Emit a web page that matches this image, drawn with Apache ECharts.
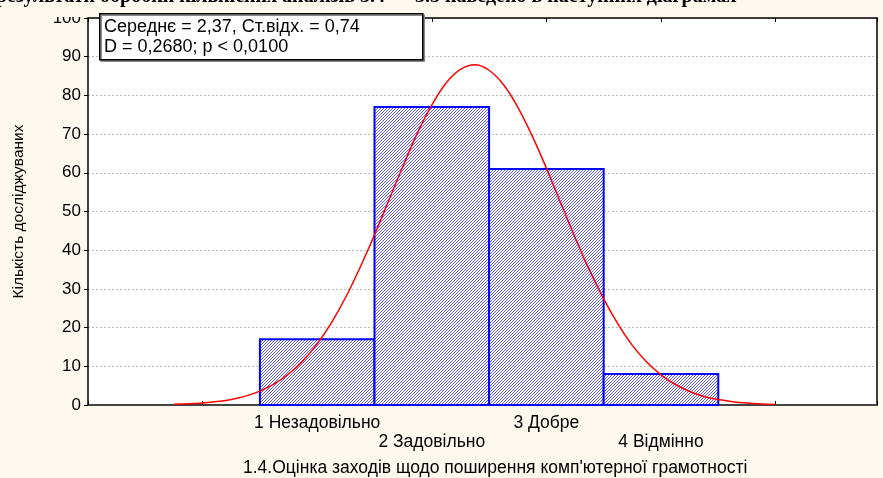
<!DOCTYPE html>
<html>
<head>
<meta charset="utf-8">
<script src="https://cdn.jsdelivr.net/npm/echarts@6/dist/echarts.min.js"></script>
<style>
html,body{margin:0;padding:0;background:#fdf9ee;}
#chart{width:883px;height:478px;}
</style>
</head>
<body>
<div id="chart"></div>
<script>
// ---- data ----
const categories = ['1 Незадовільно', '2 Задовільно', '3 Добре', '4 Відмінно'];
const categoryPos = [1, 2, 3, 4];
const counts = [17, 77, 61, 8];
const curveX = [-0.25, -0.125, 0, 0.125, 0.25, 0.375, 0.5, 0.625, 0.75, 0.875, 1, 1.125, 1.25, 1.375, 1.5, 1.625, 1.75, 1.875, 2, 2.125, 2.25, 2.375, 2.5, 2.625, 2.75, 2.875, 3, 3.125, 3.25, 3.375, 3.5, 3.625, 3.75, 3.875, 4, 4.125, 4.25, 4.375, 4.5, 4.625, 4.75, 4.875, 5];
const curveY = [0.17, 0.3, 0.52, 0.88, 1.45, 2.3, 3.6, 5.45, 8, 11.4, 15.8, 21.3, 27.9, 35.6, 44, 52.9, 61.8, 70.3, 77.5, 83.2, 86.7, 87.9, 86.5, 82.8, 77, 69.6, 61.2, 52.2, 43.3, 34.9, 27.4, 20.9, 15.4, 11.1, 7.8, 5.3, 3.5, 2.2, 1.4, 0.85, 0.5, 0.29, 0.16];
const yTicks = [0, 10, 20, 30, 40, 50, 60, 70, 80, 90, 100];
const statsLine1 = 'Середнє = 2,37, Ст.відх. = 0,74';
const statsLine2 = 'D = 0,2680; p < 0,0100';
const xTitle = "1.4.Оцінка заходів щодо поширення комп'ютерної грамотності";
const yTitle = 'Кількість досліджуваних';
const docText = 'результати обробки кількісних аналізів 3.4 — 3.5 наведено в наступних діаграмах';

// hatch pattern
const tile = document.createElement('canvas');
tile.width = 3; tile.height = 3;
const tctx = tile.getContext('2d');
tctx.fillStyle = '#ffffff'; tctx.fillRect(0, 0, 3, 3);
tctx.fillStyle = '#5a5aff';
tctx.fillRect(0, 2, 1, 1); tctx.fillRect(1, 1, 1, 1); tctx.fillRect(2, 0, 1, 1);

const FONT = '"Liberation Sans", Arial, sans-serif';
const chart = echarts.init(document.getElementById('chart'), null, {renderer: 'canvas'});

const option = {
  backgroundColor: '#fdf9ee',
  animation: false,
  grid: {left: 88, right: 6, top: 18, bottom: 73, show: true, backgroundColor: '#ffffff', borderWidth: 0},
  xAxis: [{
    type: 'value', min: -1, max: 5.885, interval: 1, position: 'bottom',
    axisLine: {onZero: false, lineStyle: {color: '#444', width: 2}},
    axisTick: {inside: true, length: 4, lineStyle: {color: '#000'}},
    splitLine: {show: false},
    axisLabel: {
      margin: 9, color: '#000', fontSize: 17.5, fontFamily: FONT, lineHeight: 19,
      formatter: function (v) {
        const i = categoryPos.indexOf(Math.round(v * 1000) / 1000);
        if (i < 0) return '';
        return i % 2 ? '\n' + categories[i] : categories[i];
      }
    }
  }, {
    type: 'value', min: -1, max: 5.885, interval: 1, position: 'top',
    axisLine: {onZero: false, lineStyle: {color: '#000', width: 1.5}},
    axisTick: {inside: true, length: 4, lineStyle: {color: '#000'}},
    splitLine: {show: false}, axisLabel: {show: false}
  }],
  yAxis: [{
    type: 'value', min: yTicks[0], max: yTicks[yTicks.length - 1], interval: 10, position: 'left',
    axisLine: {show: true, onZero: false, lineStyle: {color: '#000', width: 1.5}},
    axisTick: {show: true, length: 4, lineStyle: {color: '#000'}},
    splitLine: {show: true, lineStyle: {color: '#bdbdbd', type: [2, 2], width: 1}},
    axisLabel: {color: '#000', fontSize: 17, fontFamily: FONT, margin: 7},
    name: yTitle, nameLocation: 'middle', nameGap: 61, nameRotate: 90,
    nameTextStyle: {color: '#000', fontSize: 15.5, fontFamily: FONT}
  }, {
    type: 'value', min: 0, max: 100, interval: 10, position: 'right',
    axisLine: {show: true, onZero: false, lineStyle: {color: '#000', width: 1.5}},
    axisTick: {show: false}, splitLine: {show: false}, axisLabel: {show: false}
  }],
  series: [{
    type: 'custom',
    xAxisIndex: 0, yAxisIndex: 0,
    encode: {x: 0, y: 1},
    data: categoryPos.map((x, i) => [x, counts[i]]),
    z: 3,
    renderItem: function (params, api) {
      const x = api.value(0), y = api.value(1);
      const p0 = api.coord([x - 0.5, y]);
      const p1 = api.coord([x + 0.5, 0]);
      return {
        type: 'rect',
        shape: {x: p0[0], y: p0[1], width: p1[0] - p0[0], height: p1[1] - p0[1]},
        style: {fill: {image: tile, repeat: 'repeat'}, stroke: '#0000ff', lineWidth: 2}
      };
    }
  }, {
    type: 'line',
    xAxisIndex: 0, yAxisIndex: 0,
    data: curveX.map((x, i) => [x, curveY[i]]),
    smooth: 0.3, showSymbol: false, symbol: 'none', z: 5,
    lineStyle: {color: '#ff0000', width: 1.5}
  }],
  graphic: [
    {type: 'text', left: -4, top: -13, z: 1, style: {text: docText, font: 'bold 20px "Liberation Serif", "Times New Roman", serif', fill: '#000'}},
    {type: 'rect', left: 0, top: 9, z: 2, shape: {width: 883, height: 8}, style: {fill: '#fdf9ee'}},
    {type: 'rect', left: 99, top: 13, z: 100, shape: {width: 323, height: 46},
      style: {fill: '#ffffff', stroke: '#000', lineWidth: 1.5, shadowColor: '#888', shadowOffsetX: 1.5, shadowOffsetY: 1.5, shadowBlur: 0}},
    {type: 'text', left: 104, top: 18, z: 101, style: {text: statsLine1, font: '18px ' + FONT, fill: '#000'}},
    {type: 'text', left: 104, top: 38, z: 101, style: {text: statsLine2, font: '18px ' + FONT, fill: '#000'}},
    {type: 'text', left: 243, top: 459, z: 101, style: {text: xTitle, font: '17.5px ' + FONT, fill: '#000'}}
  ]
};
chart.setOption(option);
</script>
</body>
</html>
